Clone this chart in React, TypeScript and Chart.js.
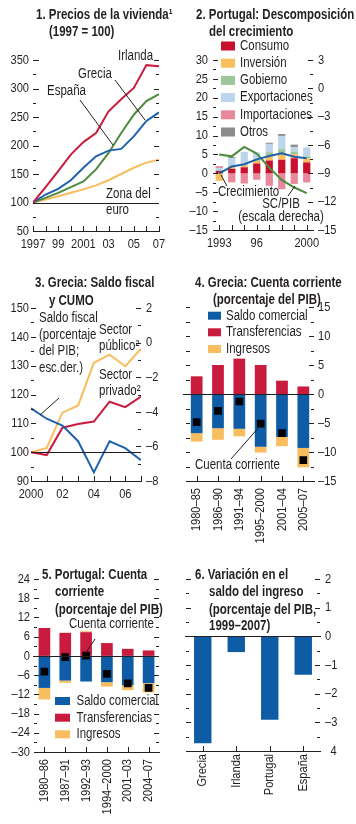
import React, { useEffect, useRef } from 'react';
import { Chart, registerables } from 'chart.js';

Chart.register(...registerables);

const FONT = '"Liberation Sans", Arial, sans-serif';
const NARROW = 0.82; // Arial Narrow is Arial at 82% width
const INK = '#231F20';
const RED = '#C91B3D';
const BLUE_LINE = '#1F61AC';
const BLUE_BAR = '#0F5CA6';
const GREEN = '#4D8B3C';
const YELLOW = '#F8BD5E';
const P2_COLORS = ['#C8102E', '#F9BF5C', '#9DC79A', '#BCD5EC', '#E8899B', '#8C8C8C'];
const TICK_SIZE = 13.5;
const TEXT_SIZE = 14;
const TITLE_SIZE = 14;

Chart.defaults.font.family = FONT;
Chart.defaults.font.size = TICK_SIZE;
Chart.defaults.color = INK;

// ---------------- Panel 1: Precios de la vivienda (1997 = 100) ----------------
const P1_YEARS = [1997, 1998, 1999, 2000, 2001, 2002, 2003, 2004, 2005, 2006, 2007];
const P1_TICK_LABELS = ['1997', '', '99', '', '2001', '', '03', '', '05', '', '07'];
const P1_IRLANDA = [100, 127, 155, 184, 206, 222, 260, 281, 301, 341, 339];
const P1_GRECIA = [100, 114, 124, 139, 161, 181, 191, 194, 216, 243, 258];
const P1_ESPANA = [100, 108, 117, 127, 137, 158, 187, 222, 254, 278, 290];
const P1_EURO = [100, 105, 111, 117, 123, 130, 139, 150, 161, 170, 175];

// ---------------- Panel 2: Portugal, descomposición del crecimiento ----------------
const P2_YEARS = ['1993', '1994', '1995', '1996', '1997', '1998', '1999', '2000'];
const P2_TICK_LABELS = ['1993', '', '', '96', '', '', '', '2000'];
const P2_LEGEND = ['Consumo', 'Inversión', 'Gobierno', 'Exportaciones', 'Importaciones', 'Otros'];
const P2_CONSUMO = [0.6, 1.2, 1.6, 2.6, 3.4, 3.6, 4.0, 2.9];
const P2_INVERSION = [-2.0, 0.5, 0.4, 0.7, 1.3, 1.5, 1.1, 1.1];
const P2_GOBIERNO = [0.3, 0.3, 0.3, 0.4, 0.9, 1.3, 0.7, 0.5];
const P2_EXPORTACIONES = [0.5, 2.0, 3.4, 1.8, 2.2, 3.5, 1.1, 2.4];
const P2_IMPORTACIONES = [0.5, -2.4, -2.7, -1.7, -3.3, -4.2, -2.8, -2.4];
const P2_OTROS = [0, 0.3, 0, 0, 0.3, 0.5, 0.7, 0];
const P2_CRECIMIENTO = [0, 1.8, 2.4, 3.7, 4.6, 5.3, 4.4, 4.0];
const P2_SC_PIB = [-7.0, -7.2, -6.2, -6.9, -8.4, -9.7, -10.5, -11.1];

// ---------------- Panel 3: Grecia, saldo fiscal y CUMO ----------------
const P3_YEARS = [2000, 2001, 2002, 2003, 2004, 2005, 2006, 2007];
const P3_TICK_LABELS = ['2000', '', '02', '', '04', '', '06', ''];
const P3_PUBLICO = [100, 101.5, 113.7, 116.2, 131, 133.8, 129.8, 135.9];
const P3_PRIVADO = [100, 99.0, 108.5, 109.8, 110.6, 117.5, 115.6, 119.3];
const P3_SALDO_FISCAL = [-3.8, -4.4, -4.8, -5.7, -7.5, -5.7, -6.1, -6.8];

// ---------------- Panel 4: Grecia, cuenta corriente ----------------
const P4_PERIODS = ['1980–85', '1986–90', '1991–94', '1995–2000', '2001–04', '2005–07'];
const P4_SALDO_COMERCIAL = [-6.75, -5.9, -6.0, -9.1, -7.4, -9.3];
const P4_TRANSFERENCIAS = [3.05, 5.0, 6.1, 5.0, 2.3, 1.3];
const P4_INGRESOS = [-1.45, -2.0, -1.3, -1.0, -1.6, -3.35];
const P4_CUENTA_CORRIENTE = [-4.85, -2.9, -1.3, -5.1, -6.75, -11.4];

// ---------------- Panel 5: Portugal, cuenta corriente ----------------
const P5_PERIODS = ['1980–86', '1987–91', '1992–93', '1994–2000', '2001–03', '2004–07'];
const P5_SALDO_COMERCIAL = [-10.0, -7.7, -8.0, -8.2, -9.2, -8.5];
const P5_TRANSFERENCIAS = [8.7, 7.2, 7.4, 4.0, 2.2, 1.7];
const P5_INGRESOS = [-3.6, -0.7, 0.3, -1.4, -1.5, -2.9];
const P5_CUENTA_CORRIENTE = [-4.9, -0.4, 0.1, -5.6, -8.6, -10.0];

// ---------------- Panel 6: Variación en el saldo del ingreso ----------------
const P6_COUNTRIES = ['Grecia', 'Irlanda', 'Portugal', 'España'];
const P6_VARIACION = [-3.73, -0.55, -2.91, -1.34];

// ---------------- helpers ----------------
const dash = (v: number) => (v < 0 ? '\u2013' + String(Math.abs(v)) : String(v));

// Emulate a condensed face: draw every text at 82% width around its anchor.
function condense(ctx: any) {
  if (ctx.__condensed) return;
  ctx.__condensed = true;
  const fill = ctx.fillText.bind(ctx);
  const measure = ctx.measureText.bind(ctx);
  ctx.fillText = (text: string, x: number, y: number) => {
    ctx.save();
    ctx.translate(x, y);
    ctx.scale(NARROW, 1);
    fill(text, 0, 0);
    ctx.restore();
  };
  ctx.measureText = (text: string) => {
    const m = measure(text);
    return {
      width: m.width * NARROW,
      actualBoundingBoxAscent: m.actualBoundingBoxAscent,
      actualBoundingBoxDescent: m.actualBoundingBoxDescent,
      actualBoundingBoxLeft: m.actualBoundingBoxLeft * NARROW,
      actualBoundingBoxRight: m.actualBoundingBoxRight * NARROW,
      fontBoundingBoxAscent: m.fontBoundingBoxAscent,
      fontBoundingBoxDescent: m.fontBoundingBoxDescent,
    };
  };
}

type Mark = { scale: string; edge: 'left' | 'right' | 'bottom'; from: number; to: number; step: number; major?: number; len: number; minorLen?: number };
type Txt = { t: string; x: number; y: number; bold?: boolean; size?: number; align?: CanvasTextAlign };
type Leg = { x: number; y: number; w: number; h: number; color: string; text: string; tx: number };
type Ref = { scale: string; value: number; x1?: number; x2?: number };
type Deco = { marks?: Mark[]; texts?: Txt[]; leaders?: number[][]; legend?: Leg[]; refs?: Ref[] };

function decoPlugin(d: Deco) {
  return {
    id: 'deco',
    afterDatasetsDraw(chart: any) {
      const { ctx, chartArea: a } = chart;
      ctx.save();
      ctx.strokeStyle = INK;
      ctx.lineWidth = 1;
      for (const r of d.refs ?? []) {
        const y = Math.round(chart.scales[r.scale].getPixelForValue(r.value)) + 0.5;
        ctx.beginPath();
        ctx.moveTo(a.left + (r.x1 ?? 0), y);
        ctx.lineTo(a.right + (r.x2 ?? 0), y);
        ctx.stroke();
      }
      ctx.restore();
    },
    afterDraw(chart: any) {
      const { ctx, chartArea: a } = chart;
      ctx.save();
      ctx.strokeStyle = INK;
      ctx.lineWidth = 1;
      for (const m of d.marks ?? []) {
        const s = chart.scales[m.scale];
        const n = Math.round((m.to - m.from) / m.step);
        for (let i = 0; i <= n; i++) {
          const v = m.from + i * m.step;
          const isMajor = !m.major || Math.abs(v / m.major - Math.round(v / m.major)) < 1e-6;
          const len = isMajor ? m.len : m.minorLen ?? m.len;
          const p = s.getPixelForValue(v);
          ctx.beginPath();
          if (m.edge === 'bottom') {
            const x = Math.round(p) + 0.5;
            ctx.moveTo(x, a.bottom);
            ctx.lineTo(x, a.bottom - len);
          } else {
            const y = Math.round(p) + 0.5;
            const x0 = m.edge === 'left' ? a.left : a.right;
            const dir = m.edge === 'left' ? 1 : -1;
            ctx.moveTo(x0, y);
            ctx.lineTo(x0 + dir * len, y);
          }
          ctx.stroke();
        }
      }
      for (const s of d.leaders ?? []) {
        ctx.beginPath();
        ctx.moveTo(s[0], s[1]);
        ctx.lineTo(s[2], s[3]);
        ctx.stroke();
      }
      ctx.textBaseline = 'middle';
      for (const l of d.legend ?? []) {
        ctx.fillStyle = l.color;
        ctx.fillRect(l.x, l.y - l.h / 2, l.w, l.h);
        ctx.fillStyle = INK;
        ctx.textAlign = 'left';
        ctx.font = `${TEXT_SIZE}px ${FONT}`;
        ctx.fillText(l.text, l.tx, l.y);
      }
      for (const t of d.texts ?? []) {
        ctx.fillStyle = INK;
        ctx.textAlign = t.align ?? 'left';
        ctx.font = `${t.bold ? 'bold ' : ''}${t.size ?? (t.bold ? TITLE_SIZE : TEXT_SIZE)}px ${FONT}`;
        ctx.fillText(t.t, t.x, t.y);
      }
      ctx.restore();
    },
  };
}

const common = {
  responsive: false,
  animation: false,
  events: [],
  plugins: { legend: { display: false }, tooltip: { enabled: false }, title: { display: false } },
};

function valueAxis(o: { position: 'left' | 'right'; min: number; max: number; step: number; width: number; padding: number; labels?: boolean; stacked?: boolean; fmt?: (v: number) => string }) {
  return {
    type: 'linear',
    position: o.position,
    min: o.min,
    max: o.max,
    stacked: o.stacked ?? false,
    grid: { display: false, drawTicks: false },
    border: { display: false },
    ticks: {
      display: o.labels !== false,
      stepSize: o.step,
      padding: o.padding,
      autoSkip: false,
      color: INK,
      font: { size: TICK_SIZE },
      callback: (v: any) => (o.fmt ?? dash)(Number(v)),
    },
    afterFit: (s: any) => {
      s.width = o.width;
    },
  };
}

function yearAxis(years: number[], labels: string[], height: number, padding: number) {
  return {
    type: 'linear',
    position: 'bottom',
    min: years[0],
    max: years[years.length - 1],
    grid: { display: false, drawTicks: false },
    border: { display: true, color: INK, width: 1 },
    ticks: {
      stepSize: 1,
      autoSkip: false,
      maxRotation: 0,
      padding,
      color: INK,
      font: { size: TICK_SIZE },
      callback: (v: any) => labels[years.indexOf(Number(v))] ?? '',
    },
    afterFit: (s: any) => {
      s.height = height;
    },
  };
}

function catAxis(height: number, padding: number, rotated: boolean, labels?: string[]) {
  return {
    type: 'category',
    position: 'bottom',
    stacked: true,
    offset: true,
    grid: { display: false, drawTicks: false },
    border: { display: true, color: INK, width: 1 },
    ticks: {
      autoSkip: false,
      minRotation: rotated ? 90 : 0,
      maxRotation: rotated ? 90 : 0,
      padding,
      color: INK,
      font: { size: TICK_SIZE },
      callback: function (this: any, v: any, i: number) {
        return labels ? labels[i] : this.getLabelForValue(v);
      },
    },
    afterFit: (s: any) => {
      s.height = height;
    },
  };
}

const lineDs = (label: string, x: number[], y: number[], color: string, yAxisID = 'y') => ({
  type: 'line',
  label,
  data: x.map((xx, i) => ({ x: xx, y: y[i] })),
  borderColor: color,
  backgroundColor: color,
  borderWidth: 2,
  pointRadius: 0,
  tension: 0,
  fill: false,
  yAxisID,
});

const barDs = (label: string, data: number[], color: string, pct: number) => ({
  type: 'bar',
  label,
  data,
  backgroundColor: color,
  borderWidth: 0,
  barPercentage: pct,
  categoryPercentage: 1,
  stack: 'bars',
  order: 1,
});

const squaresDs = (label: string, data: number[]) => ({
  type: 'line',
  label,
  data,
  showLine: false,
  pointStyle: 'rect',
  pointRadius: 5.4,
  pointBackgroundColor: '#000',
  pointBorderWidth: 0,
  stack: 'cc',
  order: 0,
});

// ---------------- panel builders ----------------
function panel1(): any {
  return {
    type: 'line',
    data: {
      datasets: [
        lineDs('Irlanda', P1_YEARS, P1_IRLANDA, RED),
        lineDs('Grecia', P1_YEARS, P1_GRECIA, BLUE_LINE),
        lineDs('España', P1_YEARS, P1_ESPANA, GREEN),
        lineDs('Zona del euro', P1_YEARS, P1_EURO, YELLOW),
      ],
    },
    options: {
      ...common,
      layout: { padding: { top: 60, right: 19, left: 0, bottom: 0 } },
      scales: {
        x: yearAxis(P1_YEARS, P1_TICK_LABELS, 44, 5),
        y: valueAxis({ position: 'left', min: 50, max: 350, step: 50, width: 33, padding: 4 }),
      },
    },
    plugins: [
      decoPlugin({
        refs: [{ scale: 'y', value: 100 }],
        marks: [
          { scale: 'y', edge: 'left', from: 50, to: 350, step: 25, major: 50, len: 6, minorLen: 3 },
          { scale: 'y', edge: 'right', from: 50, to: 350, step: 25, major: 50, len: 5, minorLen: 3 },
          { scale: 'x', edge: 'bottom', from: 1997, to: 2007, step: 1, len: 5 },
        ],
        texts: [
          { t: '1. Precios de la vivienda\u00B9', x: 36, y: 15, bold: true },
          { t: '(1997 = 100)', x: 49, y: 32, bold: true },
          { t: 'Irlanda', x: 118, y: 56 },
          { t: 'Grecia', x: 78, y: 74 },
          { t: 'España', x: 47, y: 91 },
          { t: 'Zona del', x: 106, y: 194 },
          { t: 'euro', x: 106, y: 210 },
        ],
        leaders: [
          [115, 80, 145, 120],
          [80, 100, 113, 145],
        ],
      }),
    ],
  };
}

function panel2(): any {
  const bars = [P2_CONSUMO, P2_INVERSION, P2_GOBIERNO, P2_EXPORTACIONES, P2_IMPORTACIONES, P2_OTROS];
  return {
    type: 'bar',
    data: {
      labels: P2_YEARS,
      datasets: [
        { type: 'line', label: 'Crecimiento', data: P2_CRECIMIENTO, borderColor: BLUE_LINE, borderWidth: 2, pointRadius: 0, tension: 0, yAxisID: 'y', stack: 'g', order: 0 },
        { type: 'line', label: 'SC/PIB', data: P2_SC_PIB, borderColor: GREEN, borderWidth: 2, pointRadius: 0, tension: 0, yAxisID: 'y2', order: 0 },
        ...bars.map((b, i) => ({ ...barDs(P2_LEGEND[i], b, P2_COLORS[i], 0.58), yAxisID: 'y' })),
      ],
    },
    options: {
      ...common,
      layout: { padding: { top: 60, right: 0, left: 0, bottom: 0 } },
      scales: {
        x: catAxis(45, 5, false, P2_TICK_LABELS),
        y: valueAxis({ position: 'left', min: -15, max: 30, step: 5, width: 35, padding: 5, stacked: true }),
        y2: valueAxis({ position: 'right', min: -15, max: 3, step: 3, width: 43, padding: 5 }),
      },
    },
    plugins: [
      decoPlugin({
        marks: [
          { scale: 'y', edge: 'left', from: -15, to: 30, step: 2.5, major: 5, len: 5, minorLen: 3 },
          { scale: 'y2', edge: 'right', from: -15, to: 3, step: 1.5, major: 3, len: 5, minorLen: 3 },
          { scale: 'x', edge: 'bottom', from: 0, to: 7, step: 1, len: 5 },
        ],
        legend: P2_LEGEND.map((text, i) => ({ x: 43, y: 46 + i * 17.2, w: 14, h: 9, color: P2_COLORS[i], text, tx: 62 })),
        texts: [
          { t: '2. Portugal: Descomposición', x: 18, y: 15, bold: true },
          { t: 'del crecimiento', x: 31, y: 32, bold: true },
          { t: 'Crecimiento', x: 40, y: 192 },
          { t: 'SC/PIB', x: 103, y: 204, align: 'center' },
          { t: '(escala derecha)', x: 103, y: 217, align: 'center' },
        ],
        leaders: [
          [49, 186, 43, 175],
          [110, 196, 117, 186],
        ],
      }),
    ],
  };
}

function panel3(): any {
  return {
    type: 'line',
    data: {
      datasets: [
        lineDs('Saldo fiscal', P3_YEARS, P3_SALDO_FISCAL, BLUE_LINE, 'y2'),
        lineDs('Sector privado', P3_YEARS, P3_PRIVADO, RED),
        lineDs('Sector público', P3_YEARS, P3_PUBLICO, YELLOW),
      ],
    },
    options: {
      ...common,
      layout: { padding: { top: 33, right: 0, left: 0, bottom: 0 } },
      scales: {
        x: yearAxis(P3_YEARS, P3_TICK_LABELS, 64, 5),
        y: valueAxis({ position: 'left', min: 90, max: 150, step: 10, width: 31, padding: 2 }),
        y2: valueAxis({ position: 'right', min: -8, max: 2, step: 2, width: 37, padding: 5 }),
      },
    },
    plugins: [
      decoPlugin({
        refs: [{ scale: 'y', value: 100 }],
        marks: [
          { scale: 'y', edge: 'left', from: 90, to: 150, step: 5, major: 10, len: 5, minorLen: 3 },
          { scale: 'y2', edge: 'right', from: -8, to: 2, step: 1, major: 2, len: 5, minorLen: 3 },
          { scale: 'x', edge: 'bottom', from: 2000, to: 2007, step: 1, len: 5 },
        ],
        texts: [
          { t: '3. Grecia: Saldo fiscal', x: 35, y: 8, bold: true },
          { t: 'y CUMO', x: 49, y: 26, bold: true },
          { t: 'Saldo fiscal', x: 39, y: 43 },
          { t: '(porcentaje', x: 39, y: 60 },
          { t: 'del PIB;', x: 39, y: 76.5 },
          { t: 'esc.der.)', x: 39, y: 93 },
          { t: 'Sector', x: 99, y: 55 },
          { t: 'público\u00B2', x: 99, y: 71.5 },
          { t: 'Sector', x: 99, y: 100 },
          { t: 'privado\u00B2', x: 99, y: 116 },
        ],
        leaders: [[59, 123, 40, 140]],
      }),
    ],
  };
}

function panel4(): any {
  return {
    type: 'bar',
    data: {
      labels: P4_PERIODS,
      datasets: [
        squaresDs('Cuenta corriente', P4_CUENTA_CORRIENTE),
        barDs('Saldo comercial', P4_SALDO_COMERCIAL, BLUE_BAR, 0.55),
        barDs('Transferencias', P4_TRANSFERENCIAS, RED, 0.55),
        barDs('Ingresos', P4_INGRESOS, YELLOW, 0.55),
      ],
    },
    options: {
      ...common,
      layout: { padding: { top: 32, right: 0, left: 8, bottom: 0 } },
      scales: {
        x: catAxis(64, 7, true),
        y: valueAxis({ position: 'right', min: -15, max: 15, step: 5, width: 42, padding: 4, stacked: true }),
      },
    },
    plugins: [
      decoPlugin({
        refs: [{ scale: 'y', value: 0, x1: -3, x2: -1 }],
        marks: [
          { scale: 'y', edge: 'left', from: -15, to: 15, step: 2.5, len: 4 },
          { scale: 'y', edge: 'right', from: -15, to: 15, step: 2.5, major: 5, len: 5, minorLen: 3 },
          { scale: 'x', edge: 'bottom', from: 0, to: 5, step: 1, len: 5 },
        ],
        legend: [
          { x: 30, y: 40.7, w: 13, h: 8, color: BLUE_BAR, text: 'Saldo comercial', tx: 48 },
          { x: 30, y: 57.3, w: 13, h: 8, color: RED, text: 'Transferencias', tx: 48 },
          { x: 30, y: 74, w: 13, h: 8, color: YELLOW, text: 'Ingresos', tx: 48 },
        ],
        texts: [
          { t: '4. Grecia: Cuenta corriente', x: 17, y: 8, bold: true },
          { t: '(porcentaje del PIB)', x: 35, y: 25, bold: true },
          { t: 'Cuenta corriente', x: 17, y: 190 },
        ],
        leaders: [[53, 184, 82, 151]],
      }),
    ],
  };
}

function panel5(): any {
  return {
    type: 'bar',
    data: {
      labels: P5_PERIODS,
      datasets: [
        squaresDs('Cuenta corriente', P5_CUENTA_CORRIENTE),
        barDs('Saldo comercial', P5_SALDO_COMERCIAL, BLUE_BAR, 0.56),
        barDs('Transferencias', P5_TRANSFERENCIAS, RED, 0.56),
        barDs('Ingresos', P5_INGRESOS, YELLOW, 0.56),
      ],
    },
    options: {
      ...common,
      layout: { padding: { top: 34, right: 19, left: 0, bottom: 0 } },
      scales: {
        x: catAxis(72, 7, true),
        y: valueAxis({ position: 'left', min: -30, max: 24, step: 6, width: 34, padding: 4, stacked: true }),
      },
    },
    plugins: [
      decoPlugin({
        refs: [{ scale: 'y', value: 0, x1: -1, x2: 0 }],
        marks: [
          { scale: 'y', edge: 'left', from: -30, to: 24, step: 3, major: 6, len: 5, minorLen: 3 },
          { scale: 'y', edge: 'right', from: -30, to: 24, step: 3, major: 6, len: 5, minorLen: 3 },
          { scale: 'x', edge: 'bottom', from: 0, to: 5, step: 1, len: 5 },
        ],
        legend: [
          { x: 55, y: 156, w: 15, h: 8, color: BLUE_BAR, text: 'Saldo comercial', tx: 76.5 },
          { x: 55, y: 172.7, w: 15, h: 8, color: RED, text: 'Transferencias', tx: 76.5 },
          { x: 55, y: 189.3, w: 15, h: 8, color: YELLOW, text: 'Ingresos', tx: 76.5 },
        ],
        texts: [
          { t: '5. Portugal: Cuenta', x: 42, y: 30, bold: true },
          { t: 'corriente', x: 55, y: 47.5, bold: true },
          { t: '(porcentaje del PIB)', x: 55, y: 65, bold: true },
          { t: 'Cuenta corriente', x: 69, y: 79 },
        ],
        leaders: [[95, 94, 85, 109]],
      }),
    ],
  };
}

function panel6(): any {
  return {
    type: 'bar',
    data: {
      labels: P6_COUNTRIES,
      datasets: [barDs('Variación', P6_VARIACION, BLUE_BAR, 0.52)],
    },
    options: {
      ...common,
      layout: { padding: { top: 34, right: 0, left: 8, bottom: 0 } },
      scales: {
        x: catAxis(73, 3, true),
        y: valueAxis({ position: 'right', min: -4, max: 2, step: 1, width: 36, padding: 5, fmt: (v: number) => (v === -4 ? '\u20024' : dash(v)) }),
      },
    },
    plugins: [
      decoPlugin({
        refs: [{ scale: 'y', value: 0, x1: -1, x2: 1 }],
        marks: [
          { scale: 'y', edge: 'left', from: -4, to: 2, step: 0.5, major: 1, len: 5, minorLen: 3 },
          { scale: 'y', edge: 'right', from: -4, to: 2, step: 0.5, major: 1, len: 5, minorLen: 3 },
          { scale: 'x', edge: 'bottom', from: 0, to: 3, step: 1, len: 5 },
        ],
        texts: [
          { t: '6. Variación en el', x: 17, y: 30, bold: true },
          { t: 'saldo del ingreso', x: 31, y: 47.5, bold: true },
          { t: '(porcentaje del PIB,', x: 31, y: 65, bold: true },
          { t: '1999–2007)', x: 31, y: 81, bold: true },
        ],
      }),
    ],
  };
}

function Panel(props: { left: number; top: number; width: number; height: number; build: () => any }) {
  const ref = useRef<HTMLCanvasElement>(null);
  useEffect(() => {
    const canvas = ref.current as HTMLCanvasElement;
    condense(canvas.getContext('2d'));
    const chart = new Chart(canvas, props.build());
    return () => chart.destroy();
  }, []);
  return (
    <canvas
      ref={ref}
      width={props.width}
      height={props.height}
      style={{ position: 'absolute', left: props.left, top: props.top, width: props.width, height: props.height }}
    />
  );
}

export default function App() {
  return (
    <div style={{ position: 'absolute', left: 0, top: 0, width: 356, height: 824, background: '#fff', overflow: 'hidden' }}>
      <Panel left={0} top={0} width={178} height={275} build={panel1} />
      <Panel left={178} top={0} width={178} height={275} build={panel2} />
      <Panel left={0} top={275} width={178} height={270} build={panel3} />
      <Panel left={178} top={275} width={178} height={270} build={panel4} />
      <Panel left={0} top={545} width={178} height={279} build={panel5} />
      <Panel left={178} top={545} width={178} height={279} build={panel6} />
    </div>
  );
}
